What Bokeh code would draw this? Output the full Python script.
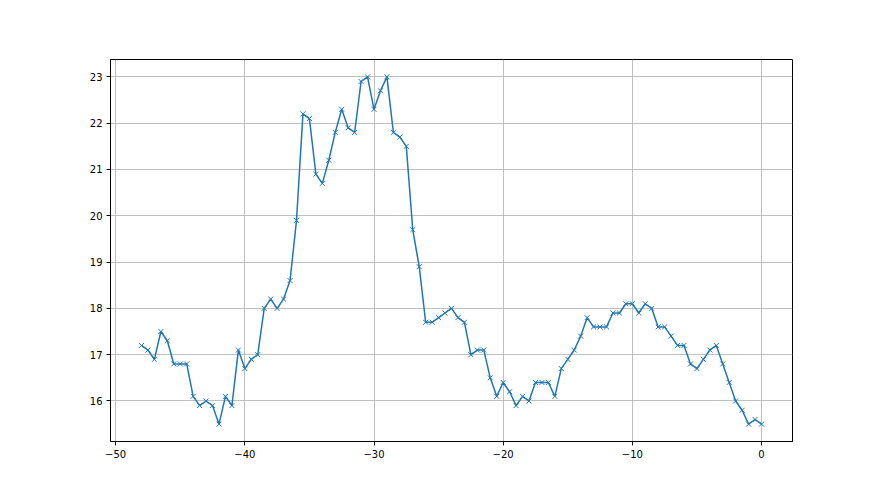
from bokeh.plotting import figure
from bokeh.embed import file_html
from bokeh.resources import INLINE
from bokeh.models import Range1d, FixedTicker

x_start = -48.0
x_step = 0.5
values = [
    17.2, 17.1, 16.9, 17.5, 17.3, 16.8, 16.8, 16.8, 16.1, 15.9, 16.0, 15.9, 15.5, 16.1, 15.9, 17.1,
    16.7, 16.9, 17.0, 18.0, 18.2, 18.0, 18.2, 18.6, 19.9, 22.2, 22.1, 20.9, 20.7, 21.2, 21.8, 22.3,
    21.9, 21.8, 22.9, 23.0, 22.3, 22.7, 23.0, 21.8, 21.7, 21.5, 19.7, 18.9, 17.7, 17.7, 17.8, 17.9,
    18.0, 17.8, 17.7, 17.0, 17.1, 17.1, 16.5, 16.1, 16.4, 16.2, 15.9, 16.1, 16.0, 16.4, 16.4, 16.4,
    16.1, 16.7, 16.9, 17.1, 17.4, 17.8, 17.6, 17.6, 17.6, 17.9, 17.9, 18.1, 18.1, 17.9, 18.1, 18.0,
    17.6, 17.6, 17.4, 17.2, 17.2, 16.8, 16.7, 16.9, 17.1, 17.2, 16.8, 16.4, 16.0, 15.8, 15.5, 15.6,
    15.5,
]
x = [x_start + i * x_step for i in range(len(values))]
x_ticks = [-50, -40, -30, -20, -10, 0]
y_ticks = [16, 17, 18, 19, 20, 21, 22, 23]

xmin, xmax = min(x), max(x)
ymin, ymax = min(values), max(values)
xm = (xmax - xmin) * 0.05
ym = (ymax - ymin) * 0.05

p = figure(width=872, height=487, output_backend="svg", toolbar_location=None,
           x_range=Range1d(xmin - xm, xmax + xm), y_range=Range1d(ymin - ym, ymax + ym),
           frame_width=682, frame_height=382,
           min_border_left=110, min_border_top=59, min_border_right=80, min_border_bottom=46)

p.line(x, values, line_color="#1f77b4", line_width=1.5)
p.scatter(x, values, marker="x", size=7, line_color="#1f77b4", line_width=1)

p.xaxis.ticker = FixedTicker(ticks=x_ticks)
p.yaxis.ticker = FixedTicker(ticks=y_ticks)
for ax in (p.xaxis[0], p.yaxis[0]):
    ax.major_label_text_font = "DejaVu Sans"
    ax.major_label_text_font_size = "10px"
    ax.major_label_text_color = "black"
    ax.axis_line_color = "black"
    ax.axis_line_width = 1
    ax.major_tick_line_color = "black"
    ax.major_tick_out = 4
    ax.major_tick_in = 0
    ax.minor_tick_line_color = None
p.xaxis.major_label_standoff = 4
p.yaxis.major_label_standoff = 4

p.xgrid.grid_line_color = "#b0b0b0"
p.ygrid.grid_line_color = "#b0b0b0"
p.xgrid.grid_line_width = 0.8
p.ygrid.grid_line_width = 0.8

p.outline_line_color = "black"
p.outline_line_width = 1
p.background_fill_color = "white"
p.border_fill_color = "white"

open("out.html", "w").write(file_html(p, INLINE))
